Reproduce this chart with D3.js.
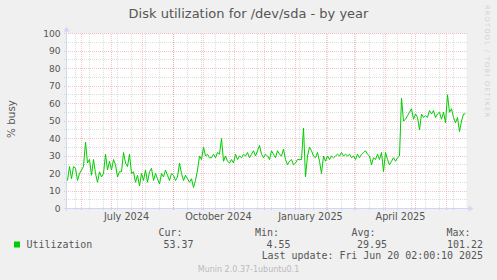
<!DOCTYPE html>
<html>
<head>
<meta charset="utf-8">
<script src="https://cdn.jsdelivr.net/npm/d3@7"></script>
<style>
  html, body { margin: 0; padding: 0; background: #f0f0f0; }
  svg { display: block; }
  text { font-family: "DejaVu Sans", sans-serif; }
  .mono { font-family: "DejaVu Sans Mono", monospace; }
</style>
</head>
<body>
<svg id="chart" width="497" height="280"></svg>
<script>
// ---------------- data ----------------
const title = "Disk utilization for /dev/sda - by year";
const yAxisLabel = "% busy";
const startDate = "2024-05-17";
const endDate = "2025-06-21";
const stepDays = 2;          // one sample every 2 days (sample i at startDate + 2i+1 days)
const utilization = [
  16, 24, 17, 24, 23, 16, 20, 22, 24, 38,
  26, 28, 19, 28, 20, 15, 21, 18, 20, 31,
  22, 27, 22, 28, 25, 18, 21, 21, 32, 26,
  24, 31, 20, 21, 15, 19, 13, 20, 16, 22,
  15, 21, 23, 16, 20, 17, 14, 20, 18, 22,
  19, 16, 20, 19, 16, 18, 26, 20, 16, 19,
  17, 15, 17, 12, 16, 22, 30, 28, 35, 30,
  31, 29, 29, 31, 29, 32, 31, 40, 27, 30,
  27, 26, 28, 26, 31, 28, 30, 29, 31, 30,
  32, 29, 31, 33, 30, 33, 36, 31, 29, 31,
  30, 28, 33, 31, 29, 33, 31, 30, 34, 28,
  25, 27, 28, 25, 26, 28, 28, 28, 46, 18,
  30, 35, 33, 30, 29, 32, 27, 20, 30, 27,
  30, 28, 30, 29, 30, 31, 30, 32, 30, 31,
  30, 31, 29, 30, 28, 31, 29, 31, 32, 33,
  31, 30, 25, 29, 28, 31, 28, 32, 21, 32,
  28, 25, 27, 29, 27, 29, 30, 63, 50, 51,
  53, 55, 57, 51, 54, 52, 45, 54, 52, 53,
  52, 56, 54, 56, 52, 54, 55, 51, 55, 49,
  65, 55, 57, 52, 49, 52, 44, 50, 54, 54
];
const yMajorTicks = [0, 10, 20, 30, 40, 50, 60, 70, 80, 90, 100];
const yMinorTicks = [5, 15, 25, 35, 45, 55, 65, 75, 85, 95];
const xLabels = ["July 2024", "October 2024", "January 2025", "April 2025"];
const xLabelDates = ["2024-07-16", "2024-10-16", "2025-01-16", "2025-04-16"];
const minorGridStart = "2024-05-26";
const minorGridDays = 14;
const seriesName = "Utilization";
const statLabels = ["Cur:", "Min:", "Avg:", "Max:"];
const statValues = ["53.37", "4.55", "29.95", "101.22"];
const lastUpdate = "Last update: Fri Jun 20 02:00:10 2025";
const footer = "Munin 2.0.37-1ubuntu0.1";
const watermark = "RRDTOOL / TOBI OETIKER";

// ---------------- layout ----------------
const svg = d3.select("#chart");
const W = 497, H = 280;
const plot = { left: 66.5, right: 466.5, top: 33.5, bottom: 208.5 };
const colors = {
  back: "#f0f0f0", canvas: "#ffffff", font: "#555555", axis: "#cfd6f8",
  grid: "rgba(150,150,150,0.32)", mgrid: "rgba(240,60,60,0.30)", line: "#00cc00"
};

const parse = d3.utcParse("%Y-%m-%d");
const t0 = parse(startDate), t1 = parse(endDate);
const x = d3.scaleUtc().domain([t0, t1]).range([plot.left, plot.right]);
const y = d3.scaleLinear().domain([0, 100]).range([plot.bottom, plot.top]);

svg.append("rect").attr("width", W).attr("height", H).attr("fill", colors.back);
svg.append("rect")
  .attr("x", plot.left).attr("y", plot.top)
  .attr("width", plot.right - plot.left).attr("height", plot.bottom - plot.top)
  .attr("fill", colors.canvas);

const snap = v => Math.floor(v) + 0.5;
const g = svg.append("g").attr("shape-rendering", "crispEdges");

// minor vertical grid
const minorDates = d3.utcDay.range(parse(minorGridStart), t1, minorGridDays)
  .filter(d => x(d) > plot.left + 1);
g.selectAll(".vminor").data(minorDates).enter().append("line")
  .attr("x1", d => snap(x(d))).attr("x2", d => snap(x(d)))
  .attr("y1", plot.top).attr("y2", plot.bottom + 2.5)
  .attr("stroke", colors.grid).attr("stroke-dasharray", "1,1");

// minor horizontal grid
g.selectAll(".hminor").data(yMinorTicks).enter().append("line")
  .attr("x1", plot.left - 2.5).attr("x2", plot.right)
  .attr("y1", d => snap(y(d))).attr("y2", d => snap(y(d)))
  .attr("stroke", colors.grid).attr("stroke-dasharray", "1,1");

// major vertical grid (months)
const monthDates = d3.utcMonth.range(d3.utcMonth.ceil(t0), t1)
  .filter(d => x(d) > plot.left + 1);
g.selectAll(".vmajor").data(monthDates).enter().append("line")
  .attr("x1", d => snap(x(d))).attr("x2", d => snap(x(d)))
  .attr("y1", plot.top).attr("y2", plot.bottom + 2.5)
  .attr("stroke", colors.mgrid).attr("stroke-dasharray", "1,1");

// major horizontal grid
g.selectAll(".hmajor").data(yMajorTicks.filter(d => d > 0)).enter().append("line")
  .attr("x1", plot.left - 2.5).attr("x2", plot.right)
  .attr("y1", d => snap(y(d))).attr("y2", d => snap(y(d)))
  .attr("stroke", colors.mgrid).attr("stroke-dasharray", "1,1");

// axes (light blue with arrows)
g.append("line").attr("x1", plot.left - 2.5).attr("x2", plot.right + 3)
  .attr("y1", plot.bottom).attr("y2", plot.bottom).attr("stroke", colors.axis);
g.append("line").attr("x1", plot.left).attr("x2", plot.left)
  .attr("y1", plot.bottom + 2.5).attr("y2", plot.top - 3).attr("stroke", colors.axis);
svg.append("path")
  .attr("d", `M${plot.right + 7},${plot.bottom} L${plot.right + 2},${plot.bottom - 3} L${plot.right + 2},${plot.bottom + 3} Z`)
  .attr("fill", colors.axis);
svg.append("path")
  .attr("d", `M${plot.left},${plot.top - 7} L${plot.left - 3},${plot.top - 2} L${plot.left + 3},${plot.top - 2} Z`)
  .attr("fill", colors.axis);

// y tick labels
svg.selectAll(".ylab").data(yMajorTicks).enter().append("text")
  .attr("x", 60.5).attr("y", d => y(d) + 3.3)
  .attr("text-anchor", "end").attr("font-size", 9.1).attr("fill", colors.font)
  .text(d => d);

// x labels
svg.selectAll(".xlab").data(xLabels).enter().append("text")
  .attr("x", (d, i) => x(parse(xLabelDates[i])))
  .attr("y", 220)
  .attr("text-anchor", "middle").attr("font-size", 9.7).attr("fill", colors.font)
  .text(d => d);

// series line
const pts = utilization.map((v, i) => ({ date: d3.utcDay.offset(t0, stepDays * i + 1), v }));
svg.append("path").datum(pts)
  .attr("d", d3.line().x(d => x(d.date)).y(d => y(d.v)))
  .attr("fill", "none").attr("stroke", colors.line).attr("stroke-width", 1);

// title
svg.append("text").attr("x", 248.5).attr("y", 17.5)
  .attr("text-anchor", "middle").attr("font-size", 13).attr("fill", colors.font)
  .text(title);

// y axis label
svg.append("text").attr("transform", "translate(14.5,119) rotate(-90)")
  .attr("text-anchor", "middle").attr("font-size", 10.4).attr("fill", colors.font)
  .text(yAxisLabel);

// watermark
svg.append("text").attr("transform", "translate(485,5) rotate(90)")
  .attr("font-size", 6.5).attr("fill", "#d0d0d0")
  .attr("textLength", 112).attr("lengthAdjust", "spacing")
  .text(watermark);

// legend
svg.append("rect").attr("x", 14).attr("y", 241.5).attr("width", 6).attr("height", 6)
  .attr("fill", colors.line);
svg.append("text").attr("class", "mono").attr("x", 26.5).attr("y", 248)
  .attr("font-size", 9.95).attr("fill", colors.font).text(seriesName);
const headX = [158.5, 255, 351.5, 446.5];
const valX = [193.5, 290.5, 387, 483];
svg.selectAll(".shead").data(statLabels).enter().append("text")
  .attr("class", "mono").attr("x", (d, i) => headX[i]).attr("y", 236)
  .attr("font-size", 9.95).attr("fill", colors.font).text(d => d);
svg.selectAll(".sval").data(statValues).enter().append("text")
  .attr("class", "mono").attr("x", (d, i) => valX[i]).attr("y", 248)
  .attr("text-anchor", "end")
  .attr("font-size", 9.95).attr("fill", colors.font).text(d => d);
svg.append("text").attr("class", "mono").attr("x", 483).attr("y", 259)
  .attr("text-anchor", "end")
  .attr("font-size", 9.95).attr("fill", colors.font).text(lastUpdate);
svg.append("text").attr("x", 248.5).attr("y", 271.5)
  .attr("text-anchor", "middle").attr("font-size", 8).attr("fill", "#bbbbbb")
  .text(footer);
</script>
</body>
</html>
